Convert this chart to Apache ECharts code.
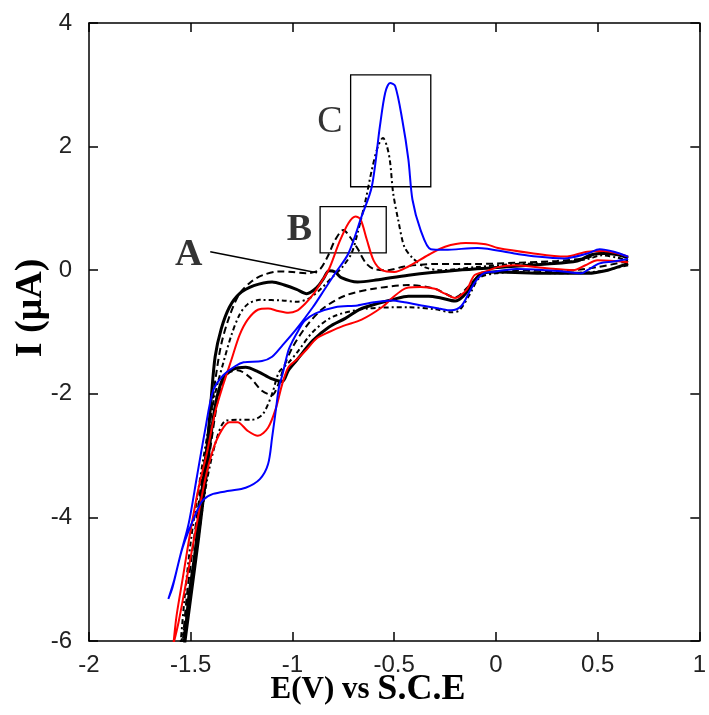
<!DOCTYPE html>
<html>
<head>
<meta charset="utf-8">
<script src="https://cdn.jsdelivr.net/npm/echarts@6/dist/echarts.min.js"></script>
<style>
html,body{margin:0;padding:0;background:#fff;}
#chart{width:709px;height:715px;}
</style>
</head>
<body>
<div id="chart"></div>
<script>
// Axis ranges / ticks
const xTicks = [-2, -1.5, -1, -0.5, 0, 0.5, 1];
const yTicks = [-6, -4, -2, 0, 2, 4];

// Curves: [E (V), I (uA)], cathodic sweep then anodic return
const blackSolid = [
[0.65,0.11],[0.55,0.0],[0.45,-0.05],[0.25,-0.05],[0.01,-0.03],[-0.07,-0.05],[-0.12,-0.25],[-0.16,-0.42],[-0.2,-0.5],[-0.27,-0.45],[-0.33,-0.42],[-0.43,-0.42],[-0.5,-0.47],[-0.66,-0.62],[-0.74,-0.78],[-0.82,-0.92],[-0.90,-1.14],[-0.98,-1.46],[-1.02,-1.62],[-1.05,-1.80],[-1.10,-1.76],[-1.17,-1.64],[-1.23,-1.57],[-1.29,-1.6],[-1.34,-1.74],[-1.38,-2.2],[-1.42,-3.2],[-1.46,-4.3],[-1.50,-5.3],[-1.53,-6.05],
[-1.51,-5.3],[-1.48,-4.6],[-1.45,-3.7],[-1.42,-2.87],[-1.40,-2.1],[-1.38,-1.4],[-1.35,-0.95],[-1.31,-0.6],[-1.26,-0.38],[-1.19,-0.25],[-1.10,-0.19],[-1.04,-0.24],[-0.98,-0.31],[-0.93,-0.38],[-0.88,-0.28],[-0.85,-0.15],[-0.82,-0.01],[-0.79,-0.03],[-0.76,-0.12],[-0.68,-0.19],[-0.59,-0.16],[-0.43,-0.08],[-0.19,0.0],[0.04,0.05],[0.25,0.1],[0.4,0.15],[0.47,0.25],[0.53,0.27],[0.6,0.25],[0.65,0.2]
];
const blackDashed = [
[0.65,0.15],[0.5,0.05],[0.3,-0.02],[0.1,0.0],[0.0,-0.02],[-0.08,-0.08],[-0.14,-0.28],[-0.2,-0.44],[-0.3,-0.3],[-0.43,-0.24],[-0.6,-0.3],[-0.74,-0.41],[-0.85,-0.62],[-0.93,-0.9],[-1.0,-1.25],[-1.04,-1.55],[-1.07,-1.85],[-1.10,-2.02],[-1.15,-1.95],[-1.21,-1.73],[-1.27,-1.62],[-1.32,-1.68],[-1.36,-2.0],[-1.40,-2.8],[-1.45,-4.0],[-1.50,-5.2],[-1.54,-6.05],
[-1.52,-5.3],[-1.49,-4.5],[-1.45,-3.5],[-1.41,-2.6],[-1.38,-1.8],[-1.35,-1.2],[-1.31,-0.75],[-1.26,-0.38],[-1.2,-0.18],[-1.146,-0.08],[-1.07,-0.02],[-1.0,-0.03],[-0.935,-0.05],[-0.87,0.0],[-0.83,0.2],[-0.79,0.49],[-0.75,0.65],[-0.72,0.55],[-0.68,0.35],[-0.64,0.12],[-0.6,0.02],[-0.53,0.0],[-0.45,0.06],[-0.3,0.1],[-0.1,0.1],[0.1,0.12],[0.3,0.15],[0.45,0.2],[0.52,0.28],[0.6,0.25],[0.65,0.2]
];
const blackDashDot = [
[0.65,0.08],[0.5,-0.02],[0.3,-0.05],[0.1,-0.03],[0.0,-0.05],[-0.08,-0.12],[-0.13,-0.4],[-0.18,-0.65],[-0.22,-0.68],[-0.3,-0.63],[-0.43,-0.6],[-0.63,-0.62],[-0.8,-0.75],[-0.9,-1.0],[-0.97,-1.3],[-1.02,-1.5],[-1.066,-1.65],[-1.10,-2.0],[-1.146,-2.33],[-1.2,-2.42],[-1.27,-2.42],[-1.33,-2.44],[-1.37,-2.7],[-1.42,-3.4],[-1.47,-4.5],[-1.52,-5.6],[-1.55,-6.05],
[-1.53,-5.3],[-1.5,-4.4],[-1.46,-3.5],[-1.42,-2.7],[-1.38,-2.0],[-1.34,-1.5],[-1.30,-1.05],[-1.26,-0.72],[-1.22,-0.55],[-1.16,-0.48],[-1.05,-0.49],[-0.98,-0.51],[-0.92,-0.46],[-0.86,-0.3],[-0.8,-0.1],[-0.755,0.05],[-0.71,0.27],[-0.68,0.6],[-0.64,1.14],[-0.61,1.62],[-0.58,2.0],[-0.555,2.14],[-0.535,2.0],[-0.52,1.75],[-0.505,1.25],[-0.48,0.81],[-0.45,0.38],[-0.41,0.2],[-0.35,0.05],[-0.27,0.0],[-0.1,0.05],[0.1,0.1],[0.3,0.12],[0.45,0.18],[0.52,0.24],[0.6,0.2],[0.65,0.15]
];
const redCurve = [
[0.65,0.13],[0.5,0.16],[0.44,0.08],[0.38,0.0],[0.25,0.03],[0.09,0.08],[0.01,0.05],[-0.05,-0.02],[-0.105,-0.08],[-0.14,-0.3],[-0.17,-0.4],[-0.2,-0.45],[-0.25,-0.38],[-0.3,-0.3],[-0.37,-0.27],[-0.43,-0.28],[-0.46,-0.32],[-0.51,-0.45],[-0.56,-0.6],[-0.66,-0.8],[-0.75,-0.9],[-0.82,-1.0],[-0.88,-1.1],[-0.935,-1.30],[-0.98,-1.45],[-1.02,-1.57],[-1.05,-1.84],[-1.08,-2.22],[-1.12,-2.55],[-1.17,-2.68],[-1.22,-2.6],[-1.27,-2.46],[-1.31,-2.46],[-1.35,-2.6],[-1.39,-2.9],[-1.43,-3.4],[-1.47,-4.1],[-1.52,-5.0],[-1.56,-5.7],[-1.585,-6.05],
[-1.57,-5.6],[-1.54,-5.0],[-1.5,-4.2],[-1.46,-3.5],[-1.42,-2.95],[-1.38,-2.3],[-1.34,-1.85],[-1.30,-1.45],[-1.26,-1.05],[-1.22,-0.8],[-1.17,-0.64],[-1.12,-0.62],[-1.07,-0.66],[-1.02,-0.69],[-0.98,-0.66],[-0.94,-0.55],[-0.9,-0.4],[-0.86,-0.2],[-0.82,0.02],[-0.77,0.45],[-0.725,0.76],[-0.69,0.87],[-0.665,0.82],[-0.635,0.5],[-0.6,0.15],[-0.56,0.0],[-0.5,-0.03],[-0.43,0.06],[-0.33,0.25],[-0.25,0.38],[-0.15,0.44],[-0.05,0.42],[0.01,0.36],[0.17,0.28],[0.34,0.22],[0.45,0.30],[0.53,0.31],[0.6,0.27],[0.65,0.22]
];
const blueCurve = [
[0.65,0.18],[0.58,0.14],[0.51,0.11],[0.45,0.0],[0.42,-0.05],[0.33,-0.02],[0.25,0.0],[0.1,0.02],[0.0,-0.02],[-0.06,-0.05],[-0.1,-0.18],[-0.13,-0.35],[-0.17,-0.58],[-0.22,-0.65],[-0.28,-0.62],[-0.35,-0.58],[-0.45,-0.52],[-0.51,-0.49],[-0.6,-0.52],[-0.68,-0.57],[-0.79,-0.6],[-0.886,-0.70],[-0.94,-0.82],[-0.97,-0.97],[-1.0,-1.15],[-1.02,-1.3],[-1.05,-1.7],[-1.066,-1.89],[-1.08,-2.22],[-1.10,-2.71],[-1.12,-3.14],[-1.16,-3.38],[-1.23,-3.52],[-1.31,-3.57],[-1.39,-3.62],[-1.44,-3.72],[-1.47,-3.9],[-1.54,-4.49],[-1.59,-5.14],[-1.61,-5.32],
[-1.58,-5.0],[-1.55,-4.6],[-1.51,-4.1],[-1.47,-3.35],[-1.43,-2.6],[-1.39,-1.95],[-1.34,-1.70],[-1.28,-1.55],[-1.24,-1.49],[-1.15,-1.47],[-1.10,-1.40],[-1.05,-1.22],[-0.98,-0.95],[-0.90,-0.60],[-0.84,-0.3],[-0.79,-0.05],[-0.725,0.27],[-0.66,0.87],[-0.61,1.35],[-0.57,2.33],[-0.544,2.87],[-0.52,3.03],[-0.495,2.98],[-0.46,2.43],[-0.43,1.79],[-0.41,1.14],[-0.37,0.65],[-0.32,0.34],[-0.25,0.33],[-0.09,0.36],[0.09,0.27],[0.2,0.22],[0.335,0.19],[0.45,0.27],[0.51,0.34],[0.58,0.30],[0.65,0.22]
];

// Annotations (data coordinates)
const boxB = [[-0.864, 1.03], [-0.539, 0.28]];
const boxC = [[-0.714, 3.16], [-0.32, 1.35]];
const pointerA = [[-1.404, 0.30], [-0.879, -0.04]];
const annotLabels = [[-1.51, 0.25, 'A'], [-0.966, 0.65, 'B'], [-0.816, 2.40, 'C']];

const chart = echarts.init(document.getElementById('chart'), null, {renderer: 'canvas'});

const tickFont = '"Liberation Sans", Arial, sans-serif';
const serif = '"Liberation Serif", "Times New Roman", serif';

function xAx(pos, show) {
  return {
    type: 'value', position: pos, min: xTicks[0], max: xTicks[xTicks.length-1], interval: 0.5,
    axisLine: {show: true, onZero: false, lineStyle: {color: '#000', width: 1.5}},
    axisTick: {show: true, inside: true, length: 9, lineStyle: {color: '#000', width: 1.5}},
    axisLabel: {show: show, color: '#222', fontSize: 24, fontFamily: tickFont, margin: 12,
      showMaxLabel: true, showMinLabel: true, formatter: v => String(v)},
    splitLine: {show: false}
  };
}
function yAx(pos, show) {
  return {
    type: 'value', position: pos, min: yTicks[0], max: yTicks[yTicks.length-1], interval: 2,
    axisLine: {show: true, onZero: false, lineStyle: {color: '#000', width: 1.5}},
    axisTick: {show: true, inside: true, length: 9, lineStyle: {color: '#000', width: 1.5}},
    axisLabel: {show: show, color: '#222', fontSize: 24, fontFamily: tickFont, margin: 17,
      formatter: v => String(v)},
    splitLine: {show: false}
  };
}

function lineSeries(data, color, width, type) {
  return {
    type: 'line', data: data, xAxisIndex: 0, yAxisIndex: 0,
    showSymbol: false, symbol: 'none', smooth: 0.3, clip: true, animation: false,
    lineStyle: {color: color, width: width, type: type}
  };
}

chart.setOption({
  backgroundColor: '#fff',
  animation: false,
  grid: {left: 89, right: 2, top: 23, bottom: 74, containLabel: false},
  xAxis: [xAx('bottom', true), xAx('top', false)],
  yAxis: [yAx('left', true), yAx('right', false)],
  series: [
    lineSeries(blackSolid, '#000', 3, 'solid'),
    lineSeries(blackDashed, '#000', 2, [7, 4]),
    lineSeries(blackDashDot, '#000', 2, [5, 3, 2, 3]),
    lineSeries(redCurve, '#ff0000', 2, 'solid'),
    lineSeries(blueCurve, '#0000ff', 2, 'solid'),
    {
      type: 'scatter', xAxisIndex: 0, yAxisIndex: 0, symbolSize: 0, animation: false,
      data: annotLabels.map((d, i) => ({
        value: d,
        label: {show: true, position: 'inside', formatter: d[2], color: '#000',
          textBorderWidth: 0, fontFamily: serif, fontSize: 38, fontWeight: i === 2 ? 'normal' : 'bold'}
      })),
      markArea: {
        silent: true,
        itemStyle: {color: 'rgba(0,0,0,0)', borderColor: '#000', borderWidth: 1.3},
        data: [
          [{coord: boxB[0]}, {coord: boxB[1]}],
          [{coord: boxC[0]}, {coord: boxC[1]}]
        ]
      },
      markLine: {
        silent: true, symbol: ['none', 'none'], label: {show: false},
        lineStyle: {color: '#000', width: 1.5, type: 'solid'},
        data: [[{coord: pointerA[0]}, {coord: pointerA[1]}]]
      }
    }
  ],
  graphic: [
    {
      type: 'text', x: 368, y: 690,
      style: {
        text: '{a|E(V) vs }{b|S.C.E}',
        rich: {
          a: {fontFamily: serif, fontWeight: 'bold', fontSize: 31, fill: '#000', color: '#000'},
          b: {fontFamily: serif, fontWeight: 'bold', fontSize: 36, fill: '#000', color: '#000'}
        },
        textAlign: 'center', textVerticalAlign: 'middle', align: 'center', verticalAlign: 'middle'
      }
    },
    {
      type: 'text', x: 31, y: 308, rotation: Math.PI / 2,
      style: {
        text: 'I (μA)', fill: '#000',
        font: 'bold 38px "Liberation Serif", "Times New Roman", serif',
        textAlign: 'center', textVerticalAlign: 'middle', align: 'center', verticalAlign: 'middle'
      }
    }
  ]
});
</script>
</body>
</html>
